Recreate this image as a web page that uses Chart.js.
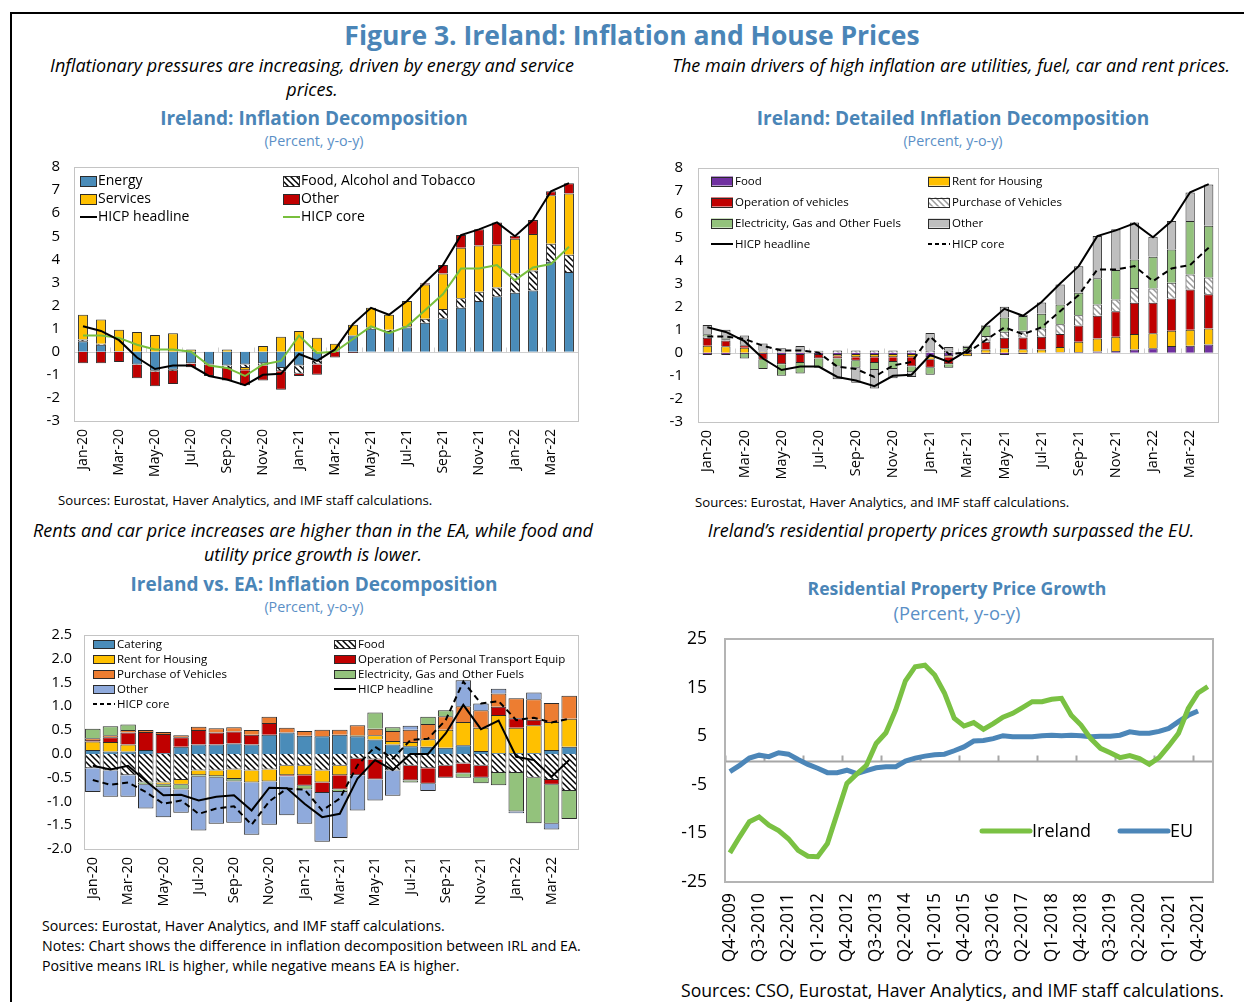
<!DOCTYPE html>
<html>
<head>
<meta charset="utf-8">
<script src="https://cdn.jsdelivr.net/npm/chart.js@4.4.0/dist/chart.umd.min.js"></script>
<style>
  body { margin: 0; width: 1244px; height: 1002px; position: relative; background: #fff; overflow: hidden; font-family: "Open Sans", sans-serif; color: #000; }
  .frame { position: absolute; left: 10px; top: 12px; width: 1300px; height: 1100px; border-left: 2px solid #000; border-top: 2px solid #000; }
  .t { position: absolute; white-space: nowrap; }
  .c { width: 800px; text-align: center; }
  .main { font-size: 26.5px; font-weight: 700; color: #4a85b7; line-height: 30px; }
  .sub { font-size: 18px; font-style: italic; line-height: 24px; }
  .ct { font-size: 19px; font-weight: 700; color: #4a85b7; line-height: 24px; }
  .pct { font-size: 14.3px; color: #5a8fc6; line-height: 20px; }
  .src { font-size: 13.2px; line-height: 20px; }
  canvas { position: absolute; }
</style>
</head>
<body>
<div class="frame"></div>

<div class="t c main" style="left:232px;top:20px">Figure 3. Ireland: Inflation and House Prices</div>
<div class="t c sub" style="left:-88px;top:53px">Inflationary pressures are increasing, driven by energy and service<br>prices.</div>
<div class="t c sub" style="left:551px;top:53px">The main drivers of high inflation are utilities, fuel, car and rent prices.</div>
<div class="t c ct" style="left:-86px;top:106px">Ireland: Inflation Decomposition</div>
<div class="t c pct" style="left:-86px;top:131px">(Percent, y-o-y)</div>
<div class="t c ct" style="left:553px;top:106px">Ireland: Detailed Inflation Decomposition</div>
<div class="t c pct" style="left:553px;top:131px">(Percent, y-o-y)</div>
<div class="t src" style="left:58px;top:490px">Sources: Eurostat, Haver Analytics, and IMF staff calculations.</div>
<div class="t src" style="left:695px;top:492px">Sources: Eurostat, Haver Analytics, and IMF staff calculations.</div>
<div class="t c sub" style="left:-87px;top:518px">Rents and car price increases are higher than in the EA, while food and<br>utility price growth is lower.</div>
<div class="t c sub" style="left:551px;top:518px">Ireland’s residential property prices growth surpassed the EU.</div>
<div class="t c ct" style="left:-86px;top:572px">Ireland vs. EA: Inflation Decomposition</div>
<div class="t c pct" style="left:-86px;top:597px">(Percent, y-o-y)</div>
<div class="t c ct" style="left:557px;top:576px;font-size:17.6px">Residential Property Price Growth</div>
<div class="t c pct" style="left:557px;top:601px;font-size:18.3px;line-height:24px">(Percent, y-o-y)</div>
<div class="t src" style="left:42px;top:916px;font-size:14.2px">Sources: Eurostat, Haver Analytics, and IMF staff calculations.<br>Notes: Chart shows the difference in inflation decomposition between IRL and EA.<br>Positive means IRL is higher, while negative means EA is higher.</div>
<div class="t src" style="left:681px;top:978px;font-size:17.6px;line-height:24px">Sources: CSO, Eurostat, Haver Analytics, and IMF staff calculations.</div>

<canvas id="c1" width="580" height="350" style="left:20px;top:140px"></canvas>
<canvas id="c2" width="590" height="350" style="left:650px;top:140px"></canvas>
<canvas id="c3" width="570" height="310" style="left:30px;top:610px"></canvas>
<canvas id="c4" width="560" height="370" style="left:680px;top:605px"></canvas>

<script>
// months shown in the three decomposition charts
const months = ['Jan-20','Feb-20','Mar-20','Apr-20','May-20','Jun-20','Jul-20','Aug-20','Sep-20','Oct-20','Nov-20','Dec-20',
  'Jan-21','Feb-21','Mar-21','Apr-21','May-21','Jun-21','Jul-21','Aug-21','Sep-21','Oct-21','Nov-21','Dec-21',
  'Jan-22','Feb-22','Mar-22','Apr-22'];

// Chart 1: Ireland inflation decomposition
const energy = [0.45,0.3,0.02,-0.55,-0.82,-0.78,-0.5,-0.55,-0.6,-0.55,-0.5,-0.7,-0.6,-0.38,0.05,0.7,1.0,0.9,1.05,1.25,1.45,1.9,2.2,2.4,2.55,2.65,3.9,3.45];
const foodAlc = [0.08,0.05,0,-0.03,-0.05,-0.05,-0.02,-0.03,-0.1,-0.15,-0.1,-0.15,-0.35,-0.17,0,0,0.05,0.05,0.05,0.18,0.4,0.42,0.4,0.38,0.84,0.87,0.78,0.75];
const services = [1.07,1.05,0.93,0.85,0.72,0.8,0.1,0,0.1,-0.1,0.25,0.65,0.9,0.6,0.3,0.47,0.85,0.65,1.1,1.48,1.54,2.18,2.0,1.85,1.5,1.58,2.1,2.65];
const otherItems = [-0.5,-0.5,-0.45,-0.57,-0.63,-0.57,-0.15,-0.47,-0.55,-0.65,-0.65,-0.8,-0.1,-0.45,-0.25,-0.05,0,0,0,0.06,0.37,0.55,0.7,0.97,0.13,0.6,0.17,0.45];
const headline = [1.1,0.9,0.5,-0.25,-0.75,-0.6,-0.6,-1.05,-1.2,-1.45,-1.0,-0.95,-0.1,-0.4,0.1,1.2,1.9,1.6,2.2,3.0,3.75,5.05,5.3,5.6,5.0,5.7,6.95,7.3];
const core = [0.7,0.7,0.6,0.3,0.1,0.1,0.0,-0.6,-0.7,-1.05,-0.55,-0.4,0.7,-0.05,0.0,0.55,1.1,0.8,1.1,1.8,2.5,3.6,3.6,3.75,3.1,3.65,3.8,4.55];

// Chart 2: detailed decomposition
const food2 = [-0.1,-0.1,-0.05,-0.05,-0.1,-0.1,-0.1,-0.1,-0.1,-0.1,-0.1,-0.1,-0.2,-0.15,-0.05,-0.05,-0.1,-0.05,0,0.02,0.03,0.05,0.08,0.14,0.19,0.29,0.3,0.36];
const rent2 = [0.3,0.28,0.22,0.05,0.02,0.02,0.02,-0.05,-0.1,-0.1,-0.1,-0.1,-0.1,-0.05,-0.1,0.14,0.19,0.15,0.14,0.23,0.45,0.57,0.61,0.67,0.65,0.66,0.7,0.69];
const opVeh2 = [0.35,0.25,0.1,-0.25,-0.4,-0.35,-0.15,-0.1,-0.15,-0.25,-0.2,-0.4,-0.35,-0.3,0.05,0.34,0.46,0.51,0.55,0.56,0.7,0.98,1.11,1.35,1.32,1.4,1.74,1.48];
const buyVeh2 = [0.05,0.05,0.05,0.05,0.02,0.02,0.02,0.1,0.1,0.1,0.1,0.1,0.1,0.1,0.1,0.24,0.26,0.29,0.36,0.42,0.44,0.49,0.51,0.64,0.62,0.68,0.65,0.73];
const elec2 = [0.1,0.05,-0.2,-0.4,-0.5,-0.45,-0.4,-0.35,-0.3,-0.3,-0.3,-0.25,-0.3,-0.15,0.1,0.45,0.62,0.64,0.64,0.86,0.98,1.13,1.27,1.24,1.38,1.44,2.32,2.24];
const other2 = [0.4,0.37,0.38,0.3,0.15,0.25,0.05,-0.55,-0.65,-0.8,-0.4,-0.2,0.75,0.15,0.05,0.03,0.46,0.04,0.49,0.87,1.15,1.83,1.77,1.6,0.86,1.23,1.23,1.79];

// Chart 3: Ireland minus euro area
const catering3 = [0.08,0.05,0.05,0.08,0.02,0.15,0.2,0.2,0.22,0.2,0.4,0.45,0.38,0.37,0.4,0.37,0.3,0.2,0.16,0.15,0.13,0.18,0.06,0.02,0.02,0.02,0.08,0.15];
const food3 = [-0.3,-0.35,-0.45,-0.6,-0.6,-0.55,-0.35,-0.35,-0.33,-0.35,-0.33,-0.25,-0.25,-0.35,-0.25,-0.1,-0.12,-0.35,-0.25,-0.3,-0.25,-0.2,-0.25,-0.4,-0.4,-0.5,-0.55,-0.78];
const rent3 = [0.18,0.2,0.15,0,-0.05,-0.1,-0.1,-0.12,-0.2,-0.25,-0.25,-0.2,-0.2,-0.25,-0.2,0.02,0.09,0.07,0.09,0.16,0.38,0.49,0.49,0.8,0.53,0.58,0.59,0.59];
const opTrans3 = [0.03,0.1,0.25,0.38,0.4,0.2,0.3,0.25,0.25,0.2,0.25,-0.02,-0.22,-0.22,-0.3,-0.35,-0.42,0,-0.31,-0.33,-0.25,-0.21,-0.25,0.17,0.2,0.12,-0.1,0];
const buyVeh3 = [0.04,0.04,0.05,0.04,0.04,0.04,0.07,0.09,0.09,0.1,0.13,0.1,0.1,0.14,0.11,0.21,0.14,0.21,0.26,0.32,0.28,0.33,0.37,0.28,0.42,0.43,0.4,0.48];
const elec3 = [0.2,0.19,0.12,-0.05,-0.05,-0.1,-0.03,-0.03,-0.05,0,0,0,-0.08,0,-0.05,0,0.34,0.08,-0.04,0.15,0.13,-0.09,-0.12,-0.26,-0.81,-0.96,-0.82,-0.59];
const other3 = [-0.5,-0.55,-0.45,-0.5,-0.63,-0.49,-1.13,-0.97,-0.87,-1.1,-0.91,-0.82,-0.72,-1.03,-0.97,-0.74,-0.44,-0.53,0.08,-0.15,0,0.55,0.14,0.1,-0.04,0.14,-0.12,0];
const headline3 = [-0.25,-0.33,-0.25,-0.57,-0.87,-0.86,-0.98,-0.9,-0.87,-1.19,-0.71,-0.72,-1.05,-1.33,-1.26,-0.52,-0.13,-0.34,0.0,0.0,0.43,1.03,0.52,0.7,-0.06,-0.13,-0.48,-0.13];
const core3 = [-0.55,-0.65,-0.6,-0.8,-1.05,-0.98,-1.26,-1.15,-1.1,-1.49,-1.0,-0.73,-0.75,-1.19,-0.94,-0.24,0.15,-0.1,0.29,0.32,0.71,1.52,1.06,1.11,0.71,0.76,0.66,0.74];

// Chart 4: residential property prices
const quarters = ['Q4-2009','Q1-2010','Q2-2010','Q3-2010','Q4-2010','Q1-2011','Q2-2011','Q3-2011','Q4-2011','Q1-2012',
  'Q2-2012','Q3-2012','Q4-2012','Q1-2013','Q2-2013','Q3-2013','Q4-2013','Q1-2014','Q2-2014','Q3-2014',
  'Q4-2014','Q1-2015','Q2-2015','Q3-2015','Q4-2015','Q1-2016','Q2-2016','Q3-2016','Q4-2016','Q1-2017',
  'Q2-2017','Q3-2017','Q4-2017','Q1-2018','Q2-2018','Q3-2018','Q4-2018','Q1-2019','Q2-2019','Q3-2019',
  'Q4-2019','Q1-2020','Q2-2020','Q3-2020','Q4-2020','Q1-2021','Q2-2021','Q3-2021','Q4-2021','Q1-2022'];
const ireland = [-19,-15.7,-12.6,-11.6,-13.3,-14.4,-16.1,-18.5,-19.7,-19.8,-17.1,-10.9,-4.7,-2.8,-1.0,3.5,5.7,10.4,16.4,19.3,
  19.6,17.6,13.9,8.7,7.1,7.8,6.4,7.6,8.9,9.7,10.9,12.1,12.1,12.6,12.8,9.3,7.3,4.5,2.5,1.6,
  0.6,1.0,0.4,-0.8,0.6,3.0,5.6,10.7,13.9,15.2];
const eu = [-2.3,-1.0,0.5,1.1,0.8,1.6,1.3,0.2,-0.8,-1.6,-2.5,-2.5,-2.0,-2.7,-2.1,-1.5,-1.3,-1.3,-0.1,0.5,
  0.9,1.2,1.3,2.0,2.8,4.0,4.1,4.5,5.1,4.9,4.9,4.9,5.1,5.2,5.1,5.2,5.1,4.9,5.0,5.0,
  5.2,5.9,5.6,5.6,6.0,6.6,8.0,9.3,10.2,null];

Chart.defaults.font.family = '"Open Sans", sans-serif';
Chart.defaults.color = '#000';

// diagonal hatch used for food / vehicle purchase
function hatch(lineColor) {
  const c = document.createElement('canvas');
  c.width = 6; c.height = 6;
  const g = c.getContext('2d');
  g.fillStyle = '#fff';
  g.fillRect(0, 0, 6, 6);
  g.strokeStyle = lineColor;
  g.lineWidth = 1.5;
  g.beginPath();
  g.moveTo(-1, -1); g.lineTo(7, 7);
  g.moveTo(5, -1); g.lineTo(7, 1);
  g.moveTo(-1, 5); g.lineTo(1, 7);
  g.stroke();
  return g.createPattern(c, 'repeat');
}
const blackHatch = hatch('#000');
const greyHatch = hatch('#9a9a9a');

function bar(label, data, color) {
  return { type: 'bar', label, data, backgroundColor: color, borderColor: '#2b2b2b', borderWidth: 1, stack: 'bars', order: 1 };
}
function line(label, data, color, dash, width) {
  return { type: 'line', label, data, borderColor: color, backgroundColor: color, borderWidth: width || 2,
    borderDash: dash || [], pointRadius: 0, tension: 0, fill: false, stack: label, order: 0 };
}

// zero line, tick marks on it and plot frame
const decor = {
  id: 'decor',
  beforeDatasetsDraw(chart, args, o) {
    const { ctx, chartArea: a, scales: { x, y } } = chart;
    if (!o.zero) return;
    const y0 = Math.round(y.getPixelForValue(0)) + 0.5;
    ctx.save();
    ctx.strokeStyle = o.zero;
    ctx.lineWidth = o.zeroWidth || 1;
    ctx.beginPath();
    ctx.moveTo(a.left, y0); ctx.lineTo(a.right, y0);
    if (o.tickEvery) {
      const step = x.getPixelForValue(1) - x.getPixelForValue(0);
      for (let k = 0; k <= chart.data.labels.length; k += o.tickEvery) {
        const px = Math.round(x.getPixelForValue(k) - step / 2) + 0.5;
        ctx.moveTo(px, y0); ctx.lineTo(px, y0 - o.tickLen);
      }
    }
    ctx.stroke();
    ctx.restore();
  },
  afterDatasetsDraw(chart, args, o) {
    const { ctx, chartArea: a } = chart;
    ctx.save();
    ctx.strokeStyle = o.frame || '#c0c0c0';
    ctx.lineWidth = o.frameWidth || 1;
    const off = (o.frameWidth || 1) % 2 ? 0.5 : 0;
    ctx.strokeRect(Math.round(a.left) + off, Math.round(a.top) + off, Math.round(a.width), Math.round(a.height));
    ctx.restore();
  }
};

// legend laid out row by row in fixed columns inside the plot
const gridLegend = {
  id: 'gridLegend',
  afterDraw(chart, args, o) {
    if (!o.cols) return;
    const { ctx, chartArea: a } = chart;
    ctx.save();
    ctx.font = o.font;
    ctx.textBaseline = 'middle';
    chart.data.datasets.forEach((ds, i) => {
      const x = a.left + o.cols[i % o.cols.length];
      const y = a.top + o.rows[Math.floor(i / o.cols.length)];
      const [w, h] = o.box;
      if (ds.type === 'line') {
        ctx.strokeStyle = ds.borderColor;
        ctx.lineWidth = ds.borderWidth;
        ctx.setLineDash(ds.borderDash && ds.borderDash.length ? [4, 3] : []);
        ctx.lineCap = o.round ? 'round' : 'butt';
        ctx.beginPath(); ctx.moveTo(x, y); ctx.lineTo(x + w, y); ctx.stroke();
        ctx.setLineDash([]);
      } else {
        ctx.fillStyle = ds.backgroundColor;
        ctx.fillRect(x, y - h / 2, w, h);
        ctx.strokeStyle = '#2b2b2b';
        ctx.lineWidth = 1;
        ctx.strokeRect(x + 0.5, Math.round(y - h / 2) + 0.5, w - 1, h);
      }
      ctx.fillStyle = '#000';
      ctx.fillText(ds.label, x + w + o.gap, y + 0.5);
    });
    ctx.restore();
  }
};

function options(c) {
  return {
    responsive: false,
    animation: false,
    layout: { padding: c.pad },
    plugins: { legend: { display: false }, tooltip: { enabled: false }, decor: c.decor, gridLegend: c.legend },
    scales: {
      x: {
        stacked: true, offset: true,
        grid: { display: false, drawTicks: false }, border: { display: false },
        ticks: {
          autoSkip: false, minRotation: 90, maxRotation: 90, padding: c.xPad, font: { size: c.xFont },
          callback(v, i) { return i % c.every === 0 ? this.getLabelForValue(v) : ''; }
        },
        afterFit(s) { s.height = c.xH; }
      },
      y: {
        stacked: true, min: c.min, max: c.max,
        grid: { display: false, drawTicks: false }, border: { display: false },
        ticks: { stepSize: c.step, padding: c.yPad, font: { size: c.yFont }, callback: c.yFmt || (v => v) },
        afterFit(s) { s.width = c.yW; }
      }
    }
  };
}

new Chart(document.getElementById('c1'), {
  type: 'bar',
  data: {
    labels: months,
    datasets: [
      bar('Energy', energy, '#4a8cb9'),
      bar('Food, Alcohol and Tobacco', foodAlc, blackHatch),
      bar('Services', services, '#ffc000'),
      bar('Other', otherItems, '#c00000'),
      line('HICP headline', headline, '#000'),
      line('HICP core', core, '#78bf3c')
    ].map(d => d.type === 'bar' ? Object.assign(d, { barPercentage: 0.55, categoryPercentage: 1 }) : d)
  },
  options: options({
    pad: { left: 0, right: 22, top: 27, bottom: 0 }, yW: 54, xH: 69, xPad: 8, yPad: 14,
    xFont: 14, yFont: 15, every: 2, min: -3, max: 8, step: 1,
    decor: { zero: '#d0d0d0', tickEvery: 2, tickLen: 5, frame: '#c4c4c4' },
    legend: { font: '14px "Open Sans"', cols: [6, 209], rows: [14, 32, 50], box: [17, 10], gap: 1 }
  }),
  plugins: [decor, gridLegend]
});

new Chart(document.getElementById('c2'), {
  type: 'bar',
  data: {
    labels: months,
    datasets: [
      bar('Food', food2, '#7030a0'),
      bar('Rent for Housing', rent2, '#ffc000'),
      bar('Operation of vehicles', opVeh2, '#c00000'),
      bar('Purchase of Vehicles', buyVeh2, greyHatch),
      bar('Electricity, Gas and Other Fuels', elec2, '#93c27c'),
      bar('Other', other2, '#bfbfbf'),
      line('HICP headline', headline, '#000'),
      line('HICP core', core, '#000', [6, 4])
    ].map(d => d.type === 'bar' ? Object.assign(d, { barPercentage: 0.5, categoryPercentage: 1 }) : d)
  },
  options: options({
    pad: { left: 0, right: 22, top: 28, bottom: 0 }, yW: 48, xH: 68, xPad: 8, yPad: 15,
    xFont: 14.5, yFont: 15, every: 2, min: -3, max: 8, step: 1,
    decor: { zero: '#d0d0d0', tickEvery: 2, tickLen: 5, frame: '#c4c4c4' },
    legend: { font: '11.5px "Open Sans"', cols: [13, 230], rows: [13, 34, 55, 76], box: [22, 9], gap: 2 }
  }),
  plugins: [decor, gridLegend]
});

new Chart(document.getElementById('c3'), {
  type: 'bar',
  data: {
    labels: months,
    datasets: [
      bar('Catering', catering3, '#4a8cb9'),
      bar('Food', food3, blackHatch),
      bar('Rent for Housing', rent3, '#ffc000'),
      bar('Operation of Personal Transport Equip', opTrans3, '#c00000'),
      bar('Purchase of Vehicles', buyVeh3, '#ed7d31'),
      bar('Electricity, Gas and Other Fuels', elec3, '#93c27c'),
      bar('Other', other3, '#8faadc'),
      line('HICP headline', headline3, '#000'),
      line('HICP core', core3, '#000', [6, 4])
    ].map(d => d.type === 'bar' ? Object.assign(d, { barPercentage: 0.88, categoryPercentage: 1 }) : d)
  },
  options: options({
    pad: { left: 0, right: 22, top: 25, bottom: 0 }, yW: 54, xH: 71, xPad: 8, yPad: 12,
    xFont: 14.5, yFont: 14.5, every: 2, min: -2, max: 2.5, step: 0.5, yFmt: v => v.toFixed(1),
    decor: { frame: '#c4c4c4' },
    legend: { font: '11.5px "Open Sans"', cols: [9, 250], rows: [9, 24, 39, 54, 69], box: [22, 8], gap: 2 }
  }),
  plugins: [decor, gridLegend]
});

const opt4 = options({
  pad: { left: 0, right: 22, top: 34, bottom: 0 }, yW: 45, xH: 93, xPad: 11, yPad: 18,
  xFont: 17.5, yFont: 17.5, every: 3, min: -25, max: 25, step: 10,
  decor: { zero: '#a6a6a6', zeroWidth: 2, tickEvery: 4, tickLen: 6, frame: '#b4b4b4', frameWidth: 2 },
  legend: { font: '18px "Open Sans"', cols: [257, 395], rows: [192], box: [48, 5], gap: 2, round: true }
});
opt4.scales.x.stacked = false;
opt4.scales.y.stacked = false;

new Chart(document.getElementById('c4'), {
  type: 'line',
  data: {
    labels: quarters,
    datasets: [
      line('Ireland', ireland, '#7ac143', null, 5),
      line('EU', eu, '#4c86b8', null, 5)
    ]
  },
  options: opt4,
  plugins: [decor, gridLegend]
});
</script>
</body>
</html>
